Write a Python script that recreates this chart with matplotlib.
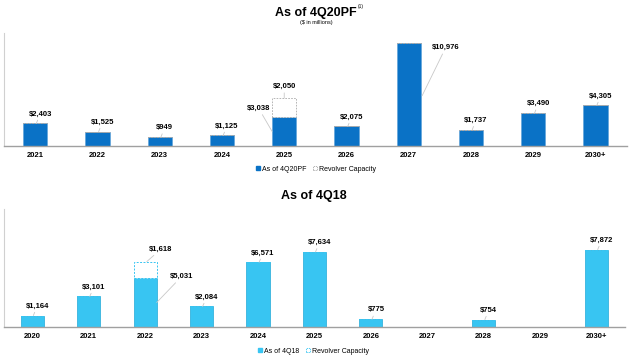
import matplotlib
matplotlib.use("Agg")
import matplotlib.pyplot as plt
from matplotlib.patches import Patch

plt.rcParams['font.family'] = ['Liberation Sans', 'DejaVu Sans']

# ---- data ----
years_top = ['2021', '2022', '2023', '2024', '2025', '2026', '2027', '2028', '2029', '2030+']
vals_top = [2403, 1525, 949, 1125, 3038, 2075, 10976, 1737, 3490, 4305]
revolver_top = [0, 0, 0, 0, 2050, 0, 0, 0, 0, 0]

years_bot = ['2020', '2021', '2022', '2023', '2024', '2025', '2026', '2027', '2028', '2029', '2030+']
vals_bot = [1164, 3101, 5031, 2084, 6571, 7634, 775, 0, 754, 0, 7872]
revolver_bot = [0, 0, 1618, 0, 0, 0, 0, 0, 0, 0, 0]

top_color = '#0A72C6'
bot_color = '#38C5F2'
bot_edge = '#22A9D8'
lead = '#C8C8C8'

fig = plt.figure(figsize=(6.4, 3.62), dpi=100)
ax1 = fig.add_axes([0.00625, 0.5967, 0.973, 0.312])
ax2 = fig.add_axes([0.00625, 0.0967, 0.970, 0.326])


def style(ax, n):
    ax.set_xlim(-0.5, n - 0.5)
    ax.set_ylim(0, 12000)
    for s in ['top', 'right']:
        ax.spines[s].set_visible(False)
    ax.spines['left'].set_color('#D0D0D0')
    ax.spines['left'].set_linewidth(0.8)
    ax.spines['bottom'].set_color('#A0A0A0')
    ax.spines['bottom'].set_linewidth(1.0)
    ax.set_yticks([])
    ax.tick_params(axis='x', length=0, pad=4)
    for t in ax.get_xticklabels():
        t.set_fontweight('bold')
        t.set_fontsize(5.5)


def lab(ax, text, xy, xytext, ha='center', va='bottom'):
    ax.annotate(text, xy=xy, xytext=xytext, textcoords='data', ha=ha, va=va,
                fontsize=5.5, fontweight='bold',
                arrowprops=dict(arrowstyle='-', color=lead, lw=0.6,
                                shrinkA=0, shrinkB=0))


# ---- top chart ----
x1 = list(range(len(years_top)))
w1 = 0.39
ax1.bar(x1, vals_top, width=w1, color=top_color, edgecolor='#5A9FD8', linewidth=0.4, zorder=2)
ax1.bar(x1, revolver_top, width=w1, bottom=vals_top, facecolor='white',
        edgecolor='#AAAAAA', linestyle=(0, (2, 1.5)), linewidth=0.6, zorder=2)
ax1.set_xticks(x1)
ax1.set_xticklabels(years_top)
style(ax1, len(years_top))

px1 = 12000 / 113.0  # data units per pixel (vertical)
for i, v in enumerate(vals_top):
    if i == 4:
        lab(ax1, '$%s' % format(v, ','), (i - w1 / 2, v - 14 * px1),
            (i - 0.41, v + 9 * px1), ha='center', va='center')
        r = revolver_top[i]
        lab(ax1, '$%s' % format(r, ','), (i, v + r),
            (i, v + r + 8 * px1), ha='center', va='bottom')
    elif i == 6:
        lab(ax1, '$%s' % format(v, ','), (i + w1 / 2 + 0.02, v - 53 * px1),
            (i + 0.37, v - 5 * px1), ha='left', va='center')
    else:
        lab(ax1, '$%s' % format(v, ','), (i + 0.02, v),
            (i + 0.08, v + 6 * px1), ha='center', va='bottom')

fig.text(0.494, 0.965, 'As of 4Q20PF', ha='center', va='center',
         fontsize=9, fontweight='bold')
fig.text(0.559, 0.982, '(1)', ha='left', va='center', fontsize=3.5)
fig.text(0.494, 0.937, '($ in millions)', ha='center', va='center', fontsize=4)

h1 = [Patch(facecolor=top_color, edgecolor=top_color, label='As of 4Q20PF'),
      Patch(facecolor='white', edgecolor='#AAAAAA', linestyle=(0, (1.5, 1)),
            linewidth=0.6, label='Revolver Capacity')]
fig.legend(handles=h1, loc='center', bbox_to_anchor=(0.494, 0.533), ncol=2,
           frameon=False, fontsize=5, handlelength=0.55, handleheight=0.55,
           handletextpad=0.3, columnspacing=1.0)

# ---- bottom chart ----
x2 = list(range(len(years_bot)))
w2 = 0.41
ax2.bar(x2, vals_bot, width=w2, color=bot_color, edgecolor=bot_edge, linewidth=0.5, zorder=2)
ax2.bar(x2, revolver_bot, width=w2, bottom=vals_bot, facecolor='white',
        edgecolor=bot_color, linestyle=(0, (2, 1.5)), linewidth=0.7, zorder=2)
ax2.set_xticks(x2)
ax2.set_xticklabels(years_bot)
style(ax2, len(years_bot))

px2 = 12000 / 118.0
for i, v in enumerate(vals_bot):
    if v == 0:
        continue
    if i == 2:
        r = revolver_bot[i]
        lab(ax2, '$%s' % format(r, ','), (i + 0.03, v + r),
            (i + 0.28, v + r + 9 * px2), ha='center', va='bottom')
        lab(ax2, '$%s' % format(v, ','), (i + w2 / 2, v - 25 * px2),
            (i + 0.44, v + 1 * px2), ha='left', va='center')
    else:
        lab(ax2, '$%s' % format(v, ','), (i + 0.02, v),
            (i + 0.09, v + 6 * px2), ha='center', va='bottom')

fig.text(0.49, 0.459, 'As of 4Q18', ha='center', va='center',
         fontsize=9, fontweight='bold')

h2 = [Patch(facecolor=bot_color, edgecolor=bot_color, label='As of 4Q18'),
      Patch(facecolor='white', edgecolor=bot_color, linestyle=(0, (1.5, 1)),
            linewidth=0.6, label='Revolver Capacity')]
fig.legend(handles=h2, loc='center', bbox_to_anchor=(0.49, 0.030), ncol=2,
           frameon=False, fontsize=5, handlelength=0.55, handleheight=0.55,
           handletextpad=0.3, columnspacing=1.0)

fig.savefig('out.png', dpi=100)
